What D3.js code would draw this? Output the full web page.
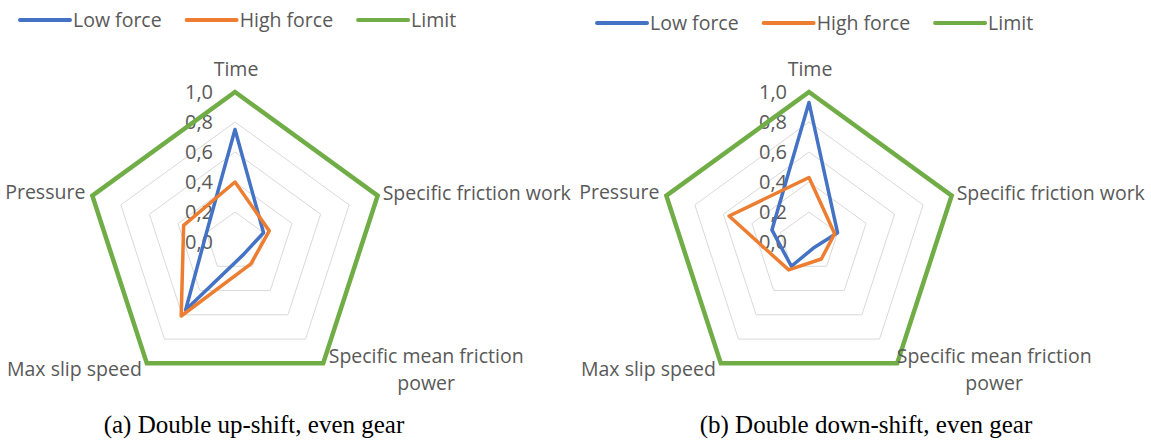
<!DOCTYPE html>
<html>
<head>
<meta charset="utf-8">
<script src="https://cdn.jsdelivr.net/npm/d3@7"></script>
<style>
  html, body { margin: 0; padding: 0; background: #fff; }
  svg { display: block; }
</style>
</head>
<body>
<svg id="chart" width="1151" height="444"></svg>
<script>
// ---------- DATA ----------
const categories = ["Time", "Specific friction work", "Specific mean friction power", "Max slip speed", "Pressure"];
const seriesNames = ["Low force", "High force", "Limit"];
const tickValues = [0, 0.2, 0.4, 0.6, 0.8, 1.0];
const tickLabels = ["0,0", "0,2", "0,4", "0,6", "0,8", "1,0"];

const upLow    = [0.75, 0.20, 0.10, 0.56, 0.20];
const upHigh   = [0.40, 0.24, 0.18, 0.61, 0.36];
const upLimit  = [1.0, 1.0, 1.0, 1.0, 1.0];

const downLow   = [0.93, 0.20, 0.05, 0.20, 0.26];
const downHigh  = [0.43, 0.18, 0.14, 0.23, 0.56];
const downLimit = [1.0, 1.0, 1.0, 1.0, 1.0];

const captions = ["(a) Double up-shift, even gear", "(b) Double down-shift, even gear"];

// ---------- STYLE ----------
const colors = ["#4472C4", "#ED7D31", "#70AD47"];
const widths = [3.5, 3.5, 4.5];
const textColor = "#595959";
const gridColor = "#D9D9D9";
const labelFont = "'Open Sans', 'Noto Sans', sans-serif";

const svg = d3.select("#chart");

const panels = [
  { cx: 235, cy: 242, series: [upLow, upHigh, upLimit], caption: captions[0], capX: 254, legendX: 20, legendY: 20, smfpDx: 103 },
  { cx: 809, cy: 242, series: [downLow, downHigh, downLimit], caption: captions[1], capX: 866, legendX: 597, legendY: 23, smfpDx: 97 }
];

const R = 150;
const r = d3.scaleLinear().domain([0, 1]).range([0, R]);
const angle = d3.scaleLinear().domain([0, categories.length]).range([0, 2 * Math.PI]);

function vertex(i, v) {
  const a = angle(i);
  return [Math.sin(a) * r(v), -Math.cos(a) * r(v)];
}

panels.forEach(p => {
  const g = svg.append("g").attr("transform", `translate(${p.cx},${p.cy})`);

  // grid pentagons
  const gridLine = d3.lineRadial()
    .angle((d, i) => angle(i))
    .radius(d => r(d))
    .curve(d3.curveLinearClosed);
  tickValues.filter(t => t > 0).forEach(t => {
    g.append("path")
      .attr("d", gridLine(categories.map(() => t)))
      .attr("fill", "none")
      .attr("stroke", gridColor)
      .attr("stroke-width", 1);
  });

  // tick labels
  g.selectAll("text.tick").data(tickValues).enter().append("text")
    .attr("class", "tick")
    .attr("x", -22)
    .attr("y", d => -r(d))
    .attr("dy", "0.35em")
    .attr("text-anchor", "end")
    .attr("font-family", labelFont)
    .attr("font-size", 20)
    .attr("fill", textColor)
    .text((d, i) => tickLabels[i]);

  // series
  const line = d3.lineRadial()
    .angle((d, i) => angle(i))
    .radius(d => r(d))
    .curve(d3.curveLinearClosed);
  [2, 0, 1].forEach(si => {
    g.append("path")
      .attr("d", line(p.series[si]))
      .attr("fill", "none")
      .attr("stroke", colors[si])
      .attr("stroke-width", widths[si])
      .attr("stroke-linejoin", si === 2 ? "miter" : "round");
  });

  // category labels
  const lab = (i, dx, dy, anchor, lines) => {
    const [x, y] = vertex(i, 1);
    const t = g.append("text")
      .attr("x", x + dx).attr("y", y + dy)
      .attr("text-anchor", anchor)
      .attr("font-family", labelFont)
      .attr("font-size", 19.5)
      .attr("fill", textColor);
    lines.forEach((s, k) => {
      t.append("tspan").attr("x", x + dx).attr("dy", k === 0 ? 0 : 27).text(s);
    });
  };
  lab(0, 1, -16, "middle", [categories[0]]);
  lab(1, 5, 4, "start", [categories[1]]);
  const smfpWords = categories[2].split(" ");
  lab(2, p.smfpDx, 0, "middle", [smfpWords.slice(0, 3).join(" "), smfpWords.slice(3).join(" ")]);
  lab(3, -5, 13, "end", [categories[3]]);
  lab(4, -7, 3, "end", [categories[4]]);

  // legend
  const lg = svg.append("g").attr("transform", `translate(${p.legendX},${p.legendY})`);
  let x = 0;
  seriesNames.forEach((name, i) => {
    lg.append("line")
      .attr("x1", x).attr("x2", x + 50).attr("y1", 0).attr("y2", 0)
      .attr("stroke", colors[i]).attr("stroke-width", 4).attr("stroke-linecap", "round");
    const t = lg.append("text")
      .attr("x", x + 53).attr("y", 0).attr("dy", "0.35em")
      .attr("font-family", labelFont).attr("font-size", 19.5)
      .attr("fill", textColor).text(name);
    x += 53 + t.node().getComputedTextLength() + 25;
  });

  // caption
  svg.append("text")
    .attr("x", p.capX).attr("y", 433)
    .attr("text-anchor", "middle")
    .attr("font-family", "'Liberation Serif', 'DejaVu Serif', serif")
    .attr("font-size", 25)
    .attr("fill", "#000")
    .text(p.caption);
});
</script>
</body>
</html>
